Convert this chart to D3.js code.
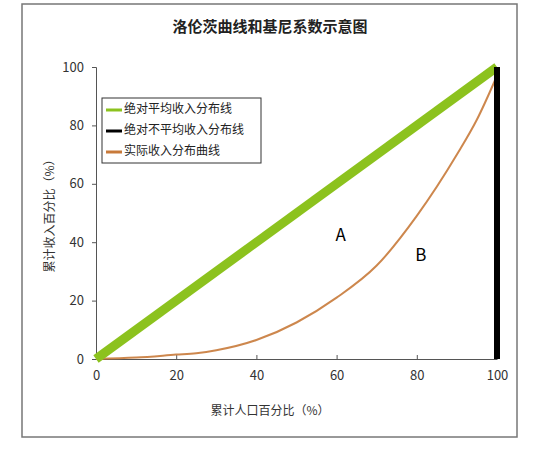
<!DOCTYPE html><html><head><meta charset="utf-8"><script src="https://d3js.org/d3.v7.min.js"></script>
<style>body{margin:0;background:#fff}text{font-family:"Noto Sans CJK SC",sans-serif}</style></head><body><script>
const title="洛伦茨曲线和基尼系数示意图";
const xLabel="累计人口百分比（%）";
const yLabel="累计收入百分比（%）";
const ticks=[0,20,40,60,80,100];
const equalityX=[0,100], equalityY=[0,100];
const lorenzX=[0,10,20,25,30,40,50,60,70,80,90,95,100];
const lorenzY=[0,0.5,1.5,2,3,6.5,12.5,21,32,49,70,82,97];
const legendNames=["绝对平均收入分布线","绝对不平均收入分布线","实际收入分布曲线"];
const colors=["#8cc21e","#000000","#c87a3a"];
const svg=d3.select("body").append("svg").attr("width",536).attr("height",451);
svg.append("rect").attr("x",22).attr("y",4).attr("width",495).attr("height",433).attr("fill","#fff").attr("stroke","#777").attr("stroke-width",1.5);
const x=d3.scaleLinear().domain([0,100]).range([96,497]);
const y=d3.scaleLinear().domain([0,100]).range([359,67]);
svg.append("text").attr("x",270).attr("y",32).attr("text-anchor","middle").attr("font-size",15).attr("font-weight","bold").attr("fill","#222").text(title);
const xa=svg.append("g").attr("transform","translate(0,359)").call(d3.axisBottom(x).tickValues(ticks).tickSizeInner(-4).tickSizeOuter(0).tickPadding(12));
const ya=svg.append("g").attr("transform","translate(96,0)").call(d3.axisLeft(y).tickValues(ticks).tickSize(4).tickPadding(8));
[xa,ya].forEach(a=>{a.selectAll("path,line").attr("stroke","#555");a.selectAll("text").attr("font-family","Liberation Serif,serif").attr("font-size",13).attr("fill","#333");});
svg.append("text").attr("x",270).attr("y",415).attr("text-anchor","middle").attr("font-size",12).attr("fill","#333").text(xLabel);
svg.append("text").attr("transform","translate(54,213) rotate(-90)").attr("text-anchor","middle").attr("font-size",12).attr("fill","#333").text(yLabel);
const line=d3.line().x(d=>x(d[0])).y(d=>y(d[1]));
svg.append("path").attr("d",line.curve(d3.curveMonotoneX)(lorenzX.map((v,i)=>[v,lorenzY[i]]))).attr("fill","none").attr("stroke",colors[2]).attr("stroke-width",2).attr("stroke-opacity",0.9);
line.curve(d3.curveLinear);
svg.append("path").attr("d",line(equalityX.map((v,i)=>[v,equalityY[i]]))).attr("fill","none").attr("stroke",colors[0]).attr("stroke-width",9);
svg.append("path").attr("d",line([[100,0],[100,100]])).attr("fill","none").attr("stroke",colors[1]).attr("stroke-width",6);
svg.append("text").attr("x",x(61)).attr("y",y(42)).attr("text-anchor","middle").attr("dominant-baseline","middle").attr("font-family","Liberation Sans,sans-serif").attr("font-size",17).text("A");
svg.append("text").attr("x",x(81)).attr("y",y(35)).attr("text-anchor","middle").attr("dominant-baseline","middle").attr("font-family","Liberation Sans,sans-serif").attr("font-size",17).text("B");
const lg=svg.append("g").attr("transform","translate(102,98)");
lg.append("rect").attr("width",159).attr("height",65).attr("fill","#fff").attr("stroke","#333");
legendNames.forEach((n,i)=>{const yy=12+i*21;
lg.append("line").attr("x1",4).attr("x2",20).attr("y1",yy).attr("y2",yy).attr("stroke",colors[i]).attr("stroke-width",3);
lg.append("text").attr("x",22).attr("y",yy).attr("dominant-baseline","middle").attr("font-size",12).attr("fill","#222").text(n);});
</script></body></html>
